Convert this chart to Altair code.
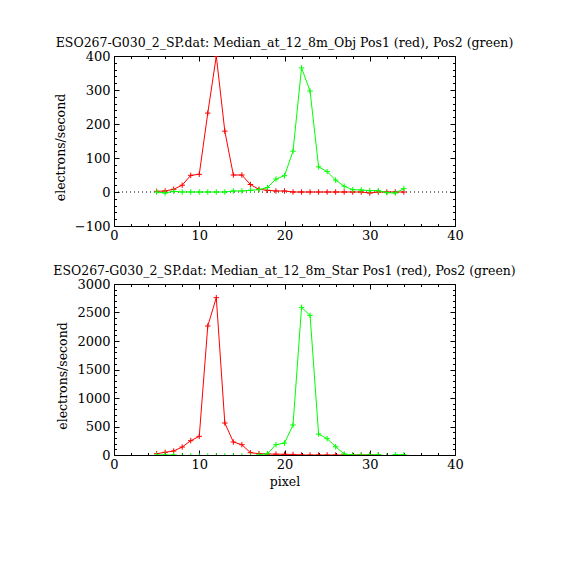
import altair as alt
import pandas as pd

FONT = "DejaVu Serif"
RED = "#ff0000"
GREEN = "#00ff00"

pixels = [5, 6, 7, 8, 9, 10, 11, 12, 13, 14, 15, 16, 17, 18, 19, 20,
          21, 22, 23, 24, 25, 26, 27, 28, 29, 30, 31, 32, 33, 34]

obj_red = [2, 3, 8, 20, 49, 52, 232, 400, 179, 50, 50, 22, 8, 5, 3, 3,
           0, 0, 0, 0, 0, 0, 0, 0, 0, -3, 0, 0, 0, 0]
obj_green = [0, -3, 2, 0, 0, 0, 0, 0, 0, 3, 3, 5, 7, 13, 38, 48,
             120, 365, 297, 74, 60, 35, 17, 7, 6, 4, 4, -2, -3, 10]

star_red = [23, 47, 70, 140, 251, 327, 2263, 2760, 561, 228, 181, 41, 23, 18, 15, 12,
            10, 0, 0, 0, 0, 0, 0, 0, 0, 0, 0, -30, -30, -30]
star_green = [0, 0, 0, -15, -15, -15, -15, -15, -15, -15, -15, -15, 0, 23, 181, 210,
              526, 2590, 2450, 368, 287, 146, 18, 0, 0, 0, 5, -20, 5, 5]

x_major = [0, 10, 20, 30, 40]
x_minor = [2, 4, 6, 8, 12, 14, 16, 18, 22, 24, 26, 28, 32, 34, 36, 38]

obj_domain = [-100, 400]
obj_major = [-100, 0, 100, 200, 300, 400]
obj_minor = [-80, -60, -40, -20, 20, 40, 60, 80, 120, 140, 160, 180,
             220, 240, 260, 280, 320, 340, 360, 380]

star_domain = [0, 3000]
star_major = [0, 500, 1000, 1500, 2000, 2500, 3000]
star_minor = [100, 200, 300, 400, 600, 700, 800, 900, 1100, 1200, 1300, 1400,
              1600, 1700, 1800, 1900, 2100, 2200, 2300, 2400, 2600, 2700, 2800, 2900]

obj_title = "ESO267-G030_2_SP.dat: Median_at_12_8m_Obj Pos1 (red), Pos2 (green)"
star_title = "ESO267-G030_2_SP.dat: Median_at_12_8m_Star Pos1 (red), Pos2 (green)"

CROSS = "M-1,0L1,0M0,-1L0,1"


def ax(**kw):
    base = dict(domain=False, grid=False, tickColor="black", tickWidth=1,
                labelFont=FONT, labelFontSize=13, labelColor="black",
                titleFont=FONT, titleFontSize=12.5, titleColor="black",
                titleFontWeight="normal", labelFlush=False, labelOverlap=False)
    base.update(kw)
    return alt.Axis(**base)


def panel(title, red, green, ydom, ymaj, ymin, xtitle, zero_line, h):
    xs = alt.Scale(domain=[0, 40], nice=False, zero=False)
    ys = alt.Scale(domain=ydom, nice=False, zero=False)
    red_df = pd.DataFrame({"pixel": pixels, "value": red})
    green_df = pd.DataFrame({"pixel": pixels, "value": green})

    def enc(xa, ya):
        return dict(x=alt.X("pixel:Q", scale=xs, axis=xa),
                    y=alt.Y("value:Q", scale=ys, axis=ya))

    xa_major = dict(orient="bottom", values=x_major, tickSize=5, offset=-5,
                    labelPadding=3, format="d")
    if xtitle:
        xa_major["title"] = xtitle
        xa_major["titlePadding"] = 4
    else:
        xa_major["title"] = None

    red_line = alt.Chart(red_df).mark_line(color=RED, strokeWidth=1, clip=True).encode(
        **enc(ax(**xa_major),
              ax(orient="left", values=ymaj, tickSize=5, offset=-5, labelPadding=4,
                 format="d", title="electrons/second", titlePadding=7,
                 titleY=h / 2 + 6)))
    red_pts = alt.Chart(red_df).mark_point(shape=CROSS, filled=False, color=RED, size=30,
                                           strokeWidth=1, opacity=1, clip=True).encode(
        **enc(ax(orient="top", values=x_major, tickSize=5, offset=-5, labels=False, title=None),
              ax(orient="right", values=ymaj, tickSize=5, offset=-5, labels=False, title=None)))
    green_line = alt.Chart(green_df).mark_line(color=GREEN, strokeWidth=1, clip=True).encode(
        **enc(ax(orient="bottom", values=x_minor, tickSize=2.5, offset=-2.5, labels=False, title=None),
              ax(orient="left", values=ymin, tickSize=2.5, offset=-2.5, labels=False, title=None)))
    green_pts = alt.Chart(green_df).mark_point(shape=CROSS, filled=False, color=GREEN, size=30,
                                               strokeWidth=1, opacity=1, clip=True).encode(
        **enc(ax(orient="top", values=x_minor, tickSize=2.5, offset=-2.5, labels=False, title=None),
              ax(orient="right", values=ymin, tickSize=2.5, offset=-2.5, labels=False, title=None)))

    layers = []
    if zero_line:
        zero = alt.Chart(pd.DataFrame({"value": [0]})).mark_rule(
            color="black", strokeWidth=1, strokeDash=[1, 3]).encode(
            y=alt.Y("value:Q", scale=ys, axis=None))
        layers.append(zero)
    layers += [red_line, red_pts, green_line, green_pts]

    return alt.layer(*layers).resolve_scale(x="shared", y="shared").resolve_axis(
        x="independent", y="independent").properties(
        width=341, height=h,
        title=alt.TitleParams(title, font=FONT, fontSize=12.5, fontWeight="normal",
                              anchor="middle", offset=1, color="black"))


top = panel(obj_title, obj_red, obj_green, obj_domain, obj_major, obj_minor, None, True, 170)
bottom = panel(star_title, star_red, star_green, star_domain, star_major, star_minor, "pixel", False, 171)

chart = alt.vconcat(top, bottom, spacing=21).properties(
    padding={"left": 44, "top": 28, "right": 5, "bottom": 5},
    background="white",
).configure_view(stroke="black", strokeWidth=1)

chart.save("out.html", embed_options={"renderer": "svg", "actions": False})
